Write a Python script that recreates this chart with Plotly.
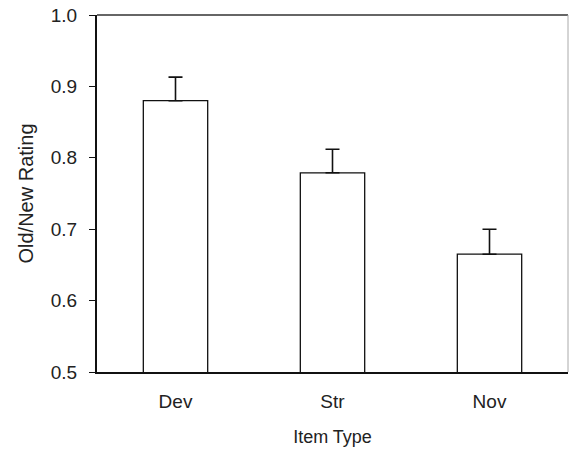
import plotly.graph_objects as go

categories = ["Dev", "Str", "Nov"]
means = [0.880, 0.779, 0.665]
errors = [0.033, 0.033, 0.035]
y_ticks = [0.5, 0.6, 0.7, 0.8, 0.9, 1.0]
y_tick_labels = ["0.5", "0.6", "0.7", "0.8", "0.9", "1.0"]

font_family = "Liberation Sans, Arial, sans-serif"

fig = go.Figure()
fig.add_trace(go.Bar(
    x=categories,
    y=means,
    width=0.41,
    marker=dict(color="white", line=dict(color="#111111", width=1.3)),
    error_y=dict(type="data", array=errors, arrayminus=[0, 0, 0], symmetric=False,
                 color="#111111", thickness=1.6, width=7),
))

fig.update_layout(
    width=570, height=452,
    margin=dict(l=97, r=2, t=15, b=80),
    paper_bgcolor="white", plot_bgcolor="white",
    showlegend=False,
    font=dict(family=font_family, size=19, color="#222222"),
    xaxis=dict(
        range=[-0.5, 2.5],
        showgrid=False, zeroline=False,
        showline=True, linecolor="#111111", linewidth=2,
        ticks="", ticklabelstandoff=11,
        tickfont=dict(size=19),
        title=dict(text="Item Type", font=dict(size=18), standoff=20),
    ),
    yaxis=dict(
        range=[0.5, 1.0],
        tickvals=y_ticks, ticktext=y_tick_labels,
        showgrid=False, zeroline=False,
        showline=True, linecolor="#111111", linewidth=2.2,
        ticks="outside", ticklen=6, tickwidth=1.2, tickcolor="#111111",
        tickfont=dict(size=19), ticklabelstandoff=8,
        title=dict(text="Old/New Rating", font=dict(size=20), standoff=12),
    ),
)

# top and right frame lines
fig.add_shape(type="line", xref="paper", yref="paper", x0=0, x1=1, y0=1, y1=1,
              line=dict(color="#333333", width=1.5))
fig.add_shape(type="line", xref="paper", yref="paper", x0=1, x1=1, y0=0, y1=1,
              line=dict(color="#aaaaaa", width=1))

fig.write_html("out.html", config={"displayModeBar": False},
               post_script="document.body.style.margin='0';document.body.style.overflow='hidden';")
